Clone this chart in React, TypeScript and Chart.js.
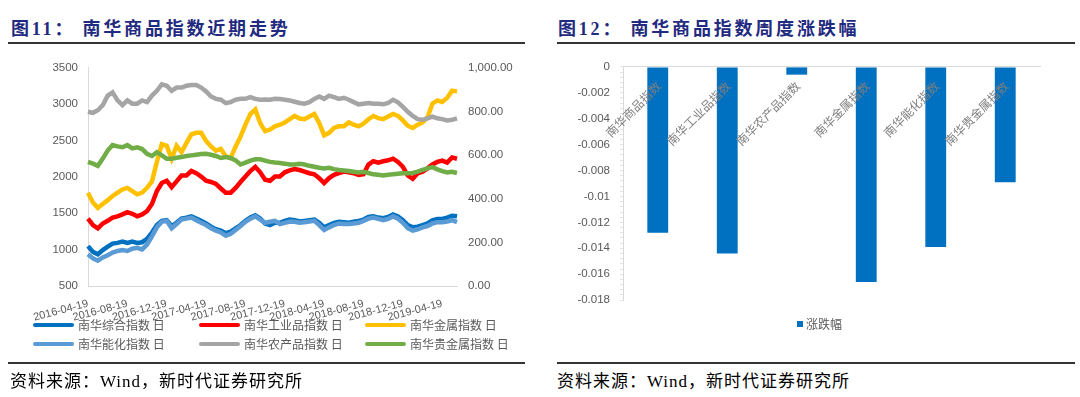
import React, { useEffect, useRef } from "react";
import { Chart, registerables } from "chart.js";
Chart.register(...registerables);

const FONT_NUM = '"Liberation Sans", Arial, sans-serif';
const FONT_CJK = '"Noto Sans CJK SC", "Liberation Sans", sans-serif';
const FONT_TITLE = '"Liberation Serif", "Noto Sans CJK SC", serif';

// ---------- Left chart: 南华商品指数近期走势 ----------
const dates = [
  "2016-04-19","2016-05-04","2016-05-19","2016-06-04","2016-06-19","2016-07-04","2016-07-19","2016-08-04",
  "2016-08-19","2016-09-04","2016-09-19","2016-10-04","2016-10-19","2016-11-04","2016-11-19","2016-12-04",
  "2016-12-19","2017-01-04","2017-01-19","2017-02-04","2017-02-19","2017-03-04","2017-03-19","2017-04-04",
  "2017-04-19","2017-05-04","2017-05-19","2017-06-04","2017-06-19","2017-07-04","2017-07-19","2017-08-04",
  "2017-08-19","2017-09-04","2017-09-19","2017-10-04","2017-10-19","2017-11-04","2017-11-19","2017-12-04",
  "2017-12-19","2018-01-04","2018-01-19","2018-02-04","2018-02-19","2018-03-04","2018-03-19","2018-04-04",
  "2018-04-19","2018-05-04","2018-05-19","2018-06-04","2018-06-19","2018-07-04","2018-07-19","2018-08-04",
  "2018-08-19","2018-09-04","2018-09-19","2018-10-04","2018-10-19","2018-11-04","2018-11-19","2018-12-04",
  "2018-12-19","2019-01-04","2019-01-19","2019-02-04","2019-02-19","2019-03-04","2019-03-19","2019-04-04",
  "2019-04-19","2019-05-04","2019-05-19","2019-06-04"
];

const xTickLabels = [
  "2016-04-19","2016-08-19","2016-12-19","2017-04-19","2017-08-19",
  "2017-12-19","2018-04-19","2018-08-19","2018-12-19","2019-04-19"
];

const leftTickLabels = ["500","1000","1500","2000","2500","3000","3500"];
const rightTickLabels = ["0.00","200.00","400.00","600.00","800.00","1,000.00"];

// left axis
const composite = [
  1049,969,937,995,1040,1084,1093,1111,1093,1111,1093,1102,1147,1236,1338,1396,1405,1325,1369,1427,
  1441,1458,1427,1396,1360,1316,1280,1262,1227,1249,1294,1338,1396,1441,1472,1427,1360,1338,1369,
  1369,1396,1414,1405,1387,1396,1405,1414,1369,1307,1338,1369,1383,1378,1369,1383,1396,1414,1450,1458,
  1441,1432,1450,1485,1458,1405,1338,1307,1316,1338,1360,1405,1423,1423,1441,1467,1458
];
const industrial = [
  1427,1338,1294,1360,1396,1441,1458,1485,1516,1494,1458,1485,1530,1628,1806,1917,1948,1859,1939,2020,
  2020,2082,2051,2006,1948,1931,1904,1841,1784,1784,1850,1931,2006,2082,2140,2064,1962,1948,2006,
  2006,2064,2091,2109,2095,2073,2051,2037,1984,1917,1984,2028,2051,2073,2064,2051,2028,2037,2171,2216,
  2198,2216,2229,2251,2207,2140,2020,1975,2051,2073,2118,2171,2207,2224,2198,2269,2251
];
const metals = [
  1784,1650,1574,1628,1681,1739,1784,1828,1850,1806,1761,1784,1850,1939,2207,2451,2429,2251,2429,2340,
  2465,2585,2607,2607,2496,2420,2362,2385,2287,2260,2420,2554,2719,2866,2928,2741,2630,2652,2697,
  2719,2750,2794,2839,2803,2794,2830,2866,2741,2572,2607,2674,2697,2697,2750,2719,2697,2732,2794,2839,
  2808,2794,2830,2866,2839,2777,2705,2674,2719,2750,2821,3008,3053,3030,3088,3186,3177
];
const energyChem = [
  937,880,848,893,924,960,982,995,982,1013,1026,1004,1071,1182,1307,1383,1396,1294,1352,1414,
  1427,1441,1405,1369,1338,1294,1262,1236,1191,1218,1271,1325,1383,1427,1458,1414,1369,1383,1396,
  1352,1369,1387,1383,1369,1378,1387,1396,1338,1271,1307,1338,1360,1352,1352,1360,1369,1396,1427,1441,
  1423,1405,1423,1458,1427,1369,1294,1262,1280,1307,1325,1360,1378,1378,1387,1405,1378
];
// right axis
const agri = [
  799,794,806,829,873,888,851,829,851,836,836,851,843,873,895,925,918,895,910,910,
  918,922,922,910,892,869,858,854,839,843,854,858,858,866,858,854,855,854,858,
  857,854,851,845,839,836,843,858,869,858,873,866,858,863,854,843,833,836,839,836,
  836,833,839,854,842,821,799,780,765,762,769,777,769,765,759,762,769
];
const precious = [
  569,561,551,584,621,646,640,636,646,631,636,628,606,596,613,599,584,584,588,591,
  596,599,602,605,606,602,596,587,591,587,576,557,566,575,581,581,575,569,566,
  564,561,557,557,560,557,551,547,542,539,542,536,532,530,527,524,521,524,518,512,
  510,507,510,512,515,517,517,518,524,532,539,545,535,527,521,524,518
];

const seriesNames = ["南华综合指数 日","南华工业品指数 日","南华金属指数 日","南华能化指数 日","南华农产品指数 日","南华贵金属指数 日"];
const seriesData = [composite, industrial, metals, energyChem, agri, precious];
const seriesAxis = ["y","y","y","y","y1","y1"];
const seriesColors = ["#0070C0","#FF0000","#FFC000","#5B9BD5","#A5A5A5","#70AD47"];

// ---------- Right chart: 南华商品指数周度涨跌幅 ----------
const barCategories = ["南华商品指数","南华工业品指数","南华农产品指数","南华金属指数","南华能化指数","南华贵金属指数"];
const barValues = [-0.0128,-0.0144,-0.0006,-0.0166,-0.0139,-0.0089];
const barSeriesName = "涨跌幅";
const barTickLabels = ["-0.018","-0.016","-0.014","-0.012","-0.01","-0.008","-0.006","-0.004","-0.002","0"];

function LineChart() {
  const ref = useRef<HTMLCanvasElement>(null);
  useEffect(() => {
    const chart = new Chart(ref.current!, {
      type: "line",
      data: {
        labels: dates,
        datasets: seriesNames.map((name, i) => ({
          label: name,
          data: seriesData[i],
          borderColor: seriesColors[i],
          backgroundColor: seriesColors[i],
          borderWidth: 4.5,
          pointRadius: 0,
          tension: 0,
          yAxisID: seriesAxis[i],
          order: seriesNames.length - 1 - i,
        })),
      },
      options: {
        animation: false,
        responsive: false,
        maintainAspectRatio: false,
        layout: { padding: { top: 11.5, left: 0, right: 0, bottom: 0 } },
        plugins: { legend: { display: false }, tooltip: { enabled: false } },
        scales: {
          x: {
            grid: { display: false, drawTicks: false },
            border: { display: true, color: "#d9d9d9", width: 1 },
            ticks: {
              autoSkip: false,
              minRotation: 15,
              maxRotation: 15,
              padding: 11,
              color: "#595959",
              font: { family: FONT_NUM, size: 11 },
              callback: (_v: any, i: number) => (xTickLabels.includes(dates[i]) ? dates[i] : ""),
            },
            afterFit: (s: any) => { s.height = 42; },
          },
          y: {
            position: "left",
            min: 500,
            max: 3500,
            grid: { display: false, drawTicks: false },
            border: { display: true, color: "#d9d9d9", width: 1 },
            ticks: {
              stepSize: 500,
              padding: 10,
              color: "#595959",
              font: { family: FONT_NUM, size: 11.5 },
              callback: (_v: any, i: number) => leftTickLabels[i],
            },
            afterFit: (s: any) => { s.width = 88; },
          },
          y1: {
            position: "right",
            min: 0,
            max: 1000,
            grid: { display: false, drawTicks: false },
            border: { display: false },
            ticks: {
              stepSize: 200,
              padding: 11,
              color: "#595959",
              font: { family: FONT_NUM, size: 11.5 },
              callback: (_v: any, i: number) => rightTickLabels[i],
            },
            afterFit: (s: any) => { s.width = 83; },
          },
        },
      } as any,
    });
    return () => chart.destroy();
  }, []);
  return (
    <canvas
      ref={ref}
      width={540}
      height={278}
      style={{ position: "absolute", left: 0, top: 50, width: 540, height: 278 }}
    />
  );
}

const innerCategoryLabels = {
  id: "innerCategoryLabels",
  afterDatasetsDraw(chart: any) {
    const { ctx, chartArea } = chart;
    const x = chart.scales.x;
    ctx.save();
    ctx.font = `12px ${FONT_CJK}`;
    ctx.fillStyle = "#7f7f7f";
    ctx.textAlign = "right";
    ctx.textBaseline = "middle";
    barCategories.forEach((c, i) => {
      const px = x.getPixelForValue(i);
      ctx.save();
      ctx.translate(px + 1, chartArea.top + 17);
      ctx.rotate(-Math.PI / 4);
      ctx.fillText(c, 0, 0);
      ctx.restore();
    });
    ctx.restore();
  },
};

function BarChart() {
  const ref = useRef<HTMLCanvasElement>(null);
  useEffect(() => {
    const chart = new Chart(ref.current!, {
      type: "bar",
      data: {
        labels: barCategories,
        datasets: [
          {
            label: barSeriesName,
            data: barValues,
            backgroundColor: "#0070C0",
            borderWidth: 0,
            barPercentage: 0.3,
            categoryPercentage: 1,
          },
        ],
      },
      options: {
        animation: false,
        responsive: false,
        maintainAspectRatio: false,
        layout: { padding: { top: 13.5, left: 0, right: 40, bottom: 8 } },
        plugins: { legend: { display: false }, tooltip: { enabled: false } },
        scales: {
          x: {
            position: "top",
            grid: { display: false, drawTicks: false },
            border: { display: true, color: "#d9d9d9", width: 1 },
            ticks: { display: false },
            afterFit: (s: any) => { s.height = 0; },
          },
          y: {
            min: -0.018,
            max: 0,
            grid: { display: true, drawOnChartArea: false, drawTicks: true, tickLength: 3, color: "#e3e3e3" },
            border: { display: true, color: "#d9d9d9", width: 1 },
            ticks: {
              stepSize: 0.0004,
              maxTicksLimit: 200,
              autoSkip: false,
              padding: 10,
              color: "#595959",
              font: { family: FONT_NUM, size: 11.5 },
              callback: (_v: any, i: number) => (i % 5 === 0 ? barTickLabels[i / 5] : ""),
            },
            afterFit: (s: any) => { s.width = 83; },
          },
        },
      } as any,
      plugins: [innerCategoryLabels],
    });
    return () => chart.destroy();
  }, []);
  return (
    <canvas
      ref={ref}
      width={540}
      height={267}
      style={{ position: "absolute", left: 540, top: 50, width: 540, height: 267 }}
    />
  );
}

const titleStyle = (left: number): React.CSSProperties => ({
  position: "absolute",
  left,
  top: 18,
  fontFamily: FONT_TITLE,
  fontWeight: 700,
  fontSize: 18,
  lineHeight: "22px",
  letterSpacing: "2.8px",
  color: "#1f2a80",
  whiteSpace: "pre",
});

const ruleStyle = (left: number, width: number, top: number): React.CSSProperties => ({
  position: "absolute",
  left,
  top,
  width,
  height: 2,
  background: "#333333",
});

const footStyle = (left: number): React.CSSProperties => ({
  position: "absolute",
  left,
  top: 372,
  fontFamily: FONT_TITLE,
  fontSize: 17,
  lineHeight: "20px",
  letterSpacing: "1px",
  color: "#000",
  whiteSpace: "pre",
});

const legendCols = [33, 199, 365];
const legendRows = [325, 344];

export default function App() {
  return (
    <div
      style={{
        position: "absolute",
        left: 0,
        top: 0,
        width: 1080,
        height: 397,
        background: "#ffffff",
        overflow: "hidden",
      }}
    >
      <div style={titleStyle(11)}>图11： 南华商品指数近期走势</div>
      <div style={ruleStyle(8, 517, 42)} />
      <div style={titleStyle(558)}>图12： 南华商品指数周度涨跌幅</div>
      <div style={ruleStyle(557, 518, 42)} />

      <LineChart />
      {seriesNames.map((name, i) => {
        const cx = legendCols[i % 3];
        const cy = legendRows[Math.floor(i / 3)];
        return (
          <React.Fragment key={name}>
            <div
              style={{
                position: "absolute",
                left: cx,
                top: cy - 2,
                width: 41,
                height: 4,
                borderRadius: 2,
                background: seriesColors[i],
              }}
            />
            <div
              style={{
                position: "absolute",
                left: cx + 45,
                top: cy - 9,
                fontFamily: FONT_CJK,
                fontSize: 12,
                lineHeight: "18px",
                color: "#595959",
                whiteSpace: "pre",
              }}
            >
              {name}
            </div>
          </React.Fragment>
        );
      })}

      <BarChart />
      <div
        style={{
          position: "absolute",
          left: 797,
          top: 321,
          width: 6,
          height: 6,
          background: "#0070C0",
        }}
      />
      <div
        style={{
          position: "absolute",
          left: 806,
          top: 315,
          fontFamily: FONT_CJK,
          fontSize: 12,
          lineHeight: "18px",
          color: "#595959",
          whiteSpace: "pre",
        }}
      >
        {barSeriesName}
      </div>

      <div style={ruleStyle(8, 517, 362)} />
      <div style={footStyle(10)}>资料来源：Wind，新时代证券研究所</div>
      <div style={ruleStyle(557, 518, 362)} />
      <div style={footStyle(557)}>资料来源：Wind，新时代证券研究所</div>
    </div>
  );
}
